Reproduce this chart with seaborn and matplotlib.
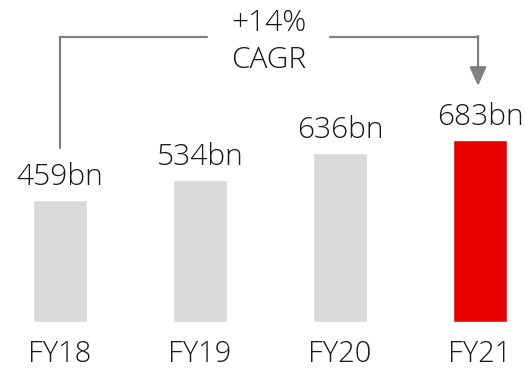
import matplotlib
matplotlib.use("Agg")
import matplotlib.pyplot as plt
import seaborn as sns
import pandas as pd

categories = ["FY18", "FY19", "FY20", "FY21"]
values = [459, 534, 636, 683]
value_labels = ["459bn", "534bn", "636bn", "683bn"]
bar_colors = ["#d9d9d9", "#d9d9d9", "#d9d9d9", "#e60000"]
cagr_text = ["+14%", "CAGR"]

sns.set_theme(style="white")
plt.rcParams["font.family"] = ["Open Sans", "DejaVu Sans"]
plt.rcParams["font.weight"] = "light"

df = pd.DataFrame({"year": categories, "value": values})

fig = plt.figure(figsize=(5.25, 3.69), dpi=100)
ax = fig.add_axes([0, 47 / 369, 1, 322 / 369])
sns.barplot(data=df, x="year", y="value", hue="year", palette=bar_colors,
            width=0.386, legend=False, ax=ax, saturation=1)

ax.set_xlim(-60 / 140, 465 / 140)
ax.set_ylim(0, 1208.4)
for s in ax.spines.values():
    s.set_visible(False)
ax.set_yticks([])
ax.set_xlabel("")
ax.set_ylabel("")
ax.tick_params(axis="x", length=0, pad=12.5, labelsize=21, labelcolor="#1a1a1a")

txt = "#1a1a1a"
for i, (v, lab) in enumerate(zip(values, value_labels)):
    ax.annotate(lab, xy=(i, v), xytext=(0, 10.5), textcoords="offset points",
                ha="center", va="baseline", fontsize=21.5, color=txt)

# CAGR bracket
lc = "#808080"
lw = 1.6
ytop = 1070
ax.plot([0, 0, 1.05], [653, ytop, ytop], color=lc, lw=lw, solid_joinstyle="miter", clip_on=False)
ax.plot([1.93, 2.986], [ytop, ytop], color=lc, lw=lw, clip_on=False)
ax.annotate("", xy=(2.986, 886), xytext=(2.986, ytop + 3),
            arrowprops=dict(arrowstyle="-|>,head_length=1.15,head_width=0.52",
                            mutation_scale=10, color=lc, lw=lw, shrinkA=0, shrinkB=0))
ax.text(1.49, 1092, cagr_text[0], ha="center", va="baseline", fontsize=21.5, color=txt)
ax.text(1.49, 953, cagr_text[1], ha="center", va="baseline", fontsize=21.5, color=txt)

fig.savefig("out.png", dpi=100)
